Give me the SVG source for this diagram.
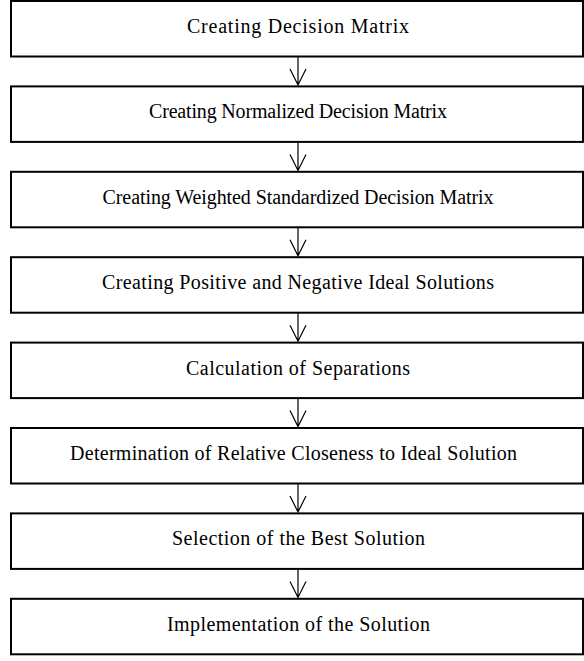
<svg xmlns="http://www.w3.org/2000/svg" width="584" height="661" viewBox="0 0 584 661">
<style>
.box{fill:#fff;stroke:#000;stroke-width:2}
.lbl{font-family:"Times New Roman","Liberation Serif",serif;font-size:20px;fill:#000;text-anchor:middle}
.con{fill:none;stroke:#000;stroke-width:1.2}
</style>
<rect width="584" height="661" fill="#fff"/>
<g id="connectors">
<path class="con" d="M298,57 V85.5 M290,69 L298,85 L306,69"/>
<path class="con" d="M298,142.4 V170.9 M290,154.4 L298,170.4 L306,154.4"/>
<path class="con" d="M298,227.8 V256.3 M290,239.8 L298,255.8 L306,239.8"/>
<path class="con" d="M298,313.2 V341.7 M290,325.2 L298,341.2 L306,325.2"/>
<path class="con" d="M298,398.6 V427.1 M290,410.6 L298,426.6 L306,410.6"/>
<path class="con" d="M298,484 V512.5 M290,496 L298,512 L306,496"/>
<path class="con" d="M298,569.4 V597.9 M290,581.4 L298,597.4 L306,581.4"/>
</g>
<g id="n1"><rect class="box" x="11" y="1" width="572" height="55.5"/><text class="lbl" x="298" y="33" textLength="222" lengthAdjust="spacing">Creating Decision Matrix</text></g>
<g id="n2"><rect class="box" x="11" y="86.4" width="572" height="55.5"/><text class="lbl" x="298" y="118.4" textLength="298" lengthAdjust="spacing">Creating Normalized Decision Matrix</text></g>
<g id="n3"><rect class="box" x="11" y="171.8" width="572" height="55.5"/><text class="lbl" x="298" y="203.8" textLength="391" lengthAdjust="spacing">Creating Weighted Standardized Decision Matrix</text></g>
<g id="n4"><rect class="box" x="11" y="257.2" width="572" height="55.5"/><text class="lbl" x="298" y="289.2" textLength="392" lengthAdjust="spacing">Creating Positive and Negative Ideal Solutions</text></g>
<g id="n5"><rect class="box" x="11" y="342.6" width="572" height="55.5"/><text class="lbl" x="298" y="374.6" textLength="224" lengthAdjust="spacing">Calculation of Separations</text></g>
<g id="n6"><rect class="box" x="11" y="428" width="572" height="55.5"/><text class="lbl" x="293.5" y="460" textLength="447" lengthAdjust="spacing">Determination of Relative Closeness to Ideal Solution</text></g>
<g id="n7"><rect class="box" x="11" y="513.4" width="572" height="55.5"/><text class="lbl" x="298.5" y="545.4" textLength="253" lengthAdjust="spacing">Selection of the Best Solution</text></g>
<g id="n8"><rect class="box" x="11" y="598.8" width="572" height="55.5"/><text class="lbl" x="298.5" y="630.8" textLength="263" lengthAdjust="spacing">Implementation of the Solution</text></g>
</svg>
